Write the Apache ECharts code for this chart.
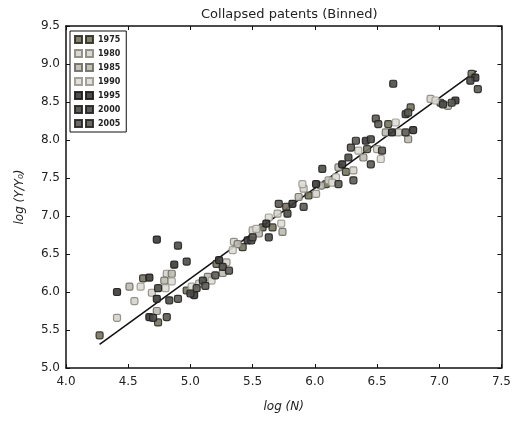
<!DOCTYPE html>
<html><head><meta charset="utf-8">
<script src="https://cdn.jsdelivr.net/npm/echarts@6/dist/echarts.min.js"></script>
<style>html,body{margin:0;padding:0;background:#fff}#c{width:514px;height:425px}</style>
</head><body><div id="c"></div>
<script>
const years = ['1975','1980','1985','1990','1995','2000','2005'];
const xTicks = ['4.0','4.5','5.0','5.5','6.0','6.5','7.0','7.5'];
const yTicks = ['5.0','5.5','6.0','6.5','7.0','7.5','8.0','8.5','9.0','9.5'];
const fitLine = [[4.27,5.31],[7.30,8.91]];

const s1975 = [[4.27,5.43],[4.62,6.18],[4.97,6.02],[5.21,6.37],[5.42,6.59],[5.58,6.85],[5.77,7.12],[5.95,7.27],[6.09,7.42],[6.25,7.58],[6.42,7.88],[6.59,8.21],[6.77,8.43],[7.01,8.49],[7.26,8.87],[4.74,5.60],[5.66,6.85]];
const s1980 = [[4.41,5.66],[4.55,5.88],[4.81,6.24],[4.69,5.99],[5.07,6.11],[5.29,6.39],[5.50,6.81],[5.70,7.03],[5.91,7.36],[6.11,7.47],[6.31,7.60],[6.50,7.88],[6.67,8.10],[6.93,8.54],[5.35,6.66],[6.01,7.29]];
const s1985 = [[4.51,6.07],[4.79,6.15],[4.73,5.75],[4.85,6.24],[5.14,6.20],[5.38,6.63],[5.55,6.77],[5.74,6.79],[5.87,7.25],[6.05,7.40],[6.19,7.64],[6.39,7.77],[6.57,8.10],[6.75,8.01],[7.07,8.45],[5.26,6.25]];
const s1990 = [[4.60,6.07],[4.85,6.14],[4.80,6.05],[5.01,6.07],[5.17,6.15],[5.34,6.55],[5.53,6.83],[5.73,6.90],[5.90,7.42],[6.17,7.51],[6.35,7.86],[6.53,7.75],[6.65,8.23],[6.97,8.52],[5.63,6.98],[6.14,7.44]];
const s1995 = [[4.41,6.00],[4.67,6.19],[4.73,6.69],[4.87,6.36],[4.73,5.91],[4.67,5.67],[5.03,5.96],[5.23,6.42],[5.46,6.68],[5.61,6.90],[5.82,7.16],[6.01,7.42],[6.22,7.68],[6.41,7.99],[6.62,8.10],[6.79,8.13],[7.13,8.52],[7.29,8.82]];
const s2000 = [[4.90,6.61],[4.97,6.40],[4.74,6.05],[4.83,5.89],[4.70,5.66],[5.10,6.15],[5.26,6.33],[5.49,6.68],[5.63,6.72],[5.78,7.03],[6.06,7.62],[6.27,7.77],[6.45,8.01],[6.63,8.74],[6.73,8.34],[7.03,8.47],[7.25,8.78],[5.00,5.98]];
const s2005 = [[4.90,5.91],[4.81,5.67],[5.12,6.08],[5.31,6.28],[5.50,6.72],[5.71,7.16],[5.91,7.12],[6.19,7.42],[6.29,7.90],[6.33,7.99],[6.45,7.68],[6.49,8.28],[6.51,8.21],[6.75,8.36],[6.73,8.10],[7.10,8.49],[7.31,8.67],[5.05,6.05],[5.20,6.22],[6.54,7.86],[6.31,7.47]];

const seriesData = [s1975,s1980,s1985,s1990,s1995,s2000,s2005];
const fills = ['#77745e','#d6d4cc','#bdbbb2','#deddd6','#3c3b38','#4d4c47','#5c5a54'];
const borders = ['#2e2d26','#8a887f','#6e6c64','#9a988f','#1c1b19','#222','#262522'];

const font = 'DejaVu Sans';
const series = years.map((y,i)=>({
  name: y, type:'scatter', data: seriesData[i], symbol:'roundRect', symbolSize:7,
  itemStyle:{color:fills[i], borderColor:borders[i], borderWidth:1.2, opacity:0.9},
  z: 3
}));
series.push({type:'line', data: fitLine, symbol:'none', lineStyle:{color:'#111', width:1.5}, z:2, silent:true});

const axisCommon = {
  axisLine:{show:true, lineStyle:{color:'#111', width:1.5}},
  axisTick:{show:true, inside:true, length:4, lineStyle:{color:'#111'}},
  splitLine:{show:false}
};
const chart = echarts.init(document.getElementById('c'));
chart.setOption({
  animation:false,
  backgroundColor:'#fff',
  title:{text:'Collapsed patents (Binned)', left:196, top:3, textStyle:{fontFamily:font, fontSize:13, fontWeight:'normal', color:'#222'}},
  grid:{left:66, right:11, top:26, bottom:57},
  legend:{data:years, orient:'vertical', left:70, top:31, itemGap:5, itemWidth:18, itemHeight:7,
    icon:'path://M0,0h7v7h-7z M11,0h7v7h-7z',
    borderColor:'#111', borderWidth:1, padding:[4,6,4,4],
    textStyle:{fontFamily:font, fontSize:8, color:'#222', fontWeight:'bold'}},
  xAxis:[
    Object.assign({type:'value', min:4, max:7.5, interval:0.5, position:'bottom',
      name:'log (N)', nameLocation:'middle', nameGap:33,
      nameTextStyle:{fontFamily:font, fontSize:12, fontStyle:'italic', color:'#222'},
      axisLabel:{fontFamily:font, fontSize:12, color:'#222', margin:8, formatter:v=>xTicks[Math.round((v-4)/0.5)]}}, axisCommon),
    Object.assign({type:'value', min:4, max:7.5, interval:0.5, position:'top', axisLabel:{show:false}}, axisCommon)
  ],
  yAxis:[
    Object.assign({type:'value', min:5, max:9.5, interval:0.5, position:'left',
      name:'log (Y/Y\u2080)', nameLocation:'middle', nameGap:40, nameRotate:90,
      nameTextStyle:{fontFamily:font, fontSize:12, fontStyle:'italic', color:'#222'},
      axisLabel:{fontFamily:font, fontSize:12, color:'#222', margin:6, formatter:v=>yTicks[Math.round((v-5)/0.5)]}}, axisCommon),
    Object.assign({type:'value', min:5, max:9.5, interval:0.5, position:'right', axisLabel:{show:false}}, axisCommon)
  ],
  series: series
});
</script></body></html>
